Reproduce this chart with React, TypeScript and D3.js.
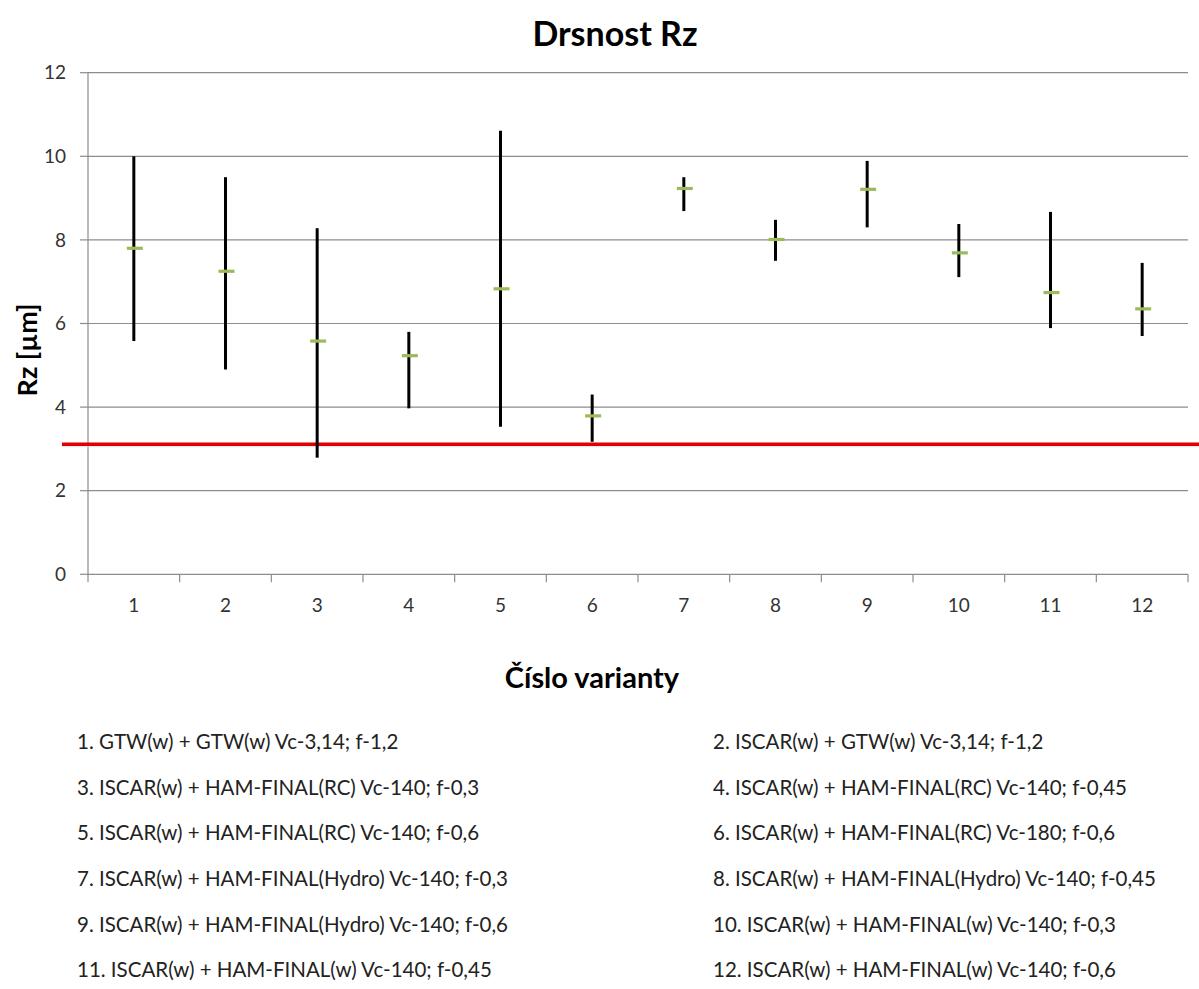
import React from 'react';
import * as d3 from 'd3';

const variants = ['1', '2', '3', '4', '5', '6', '7', '8', '9', '10', '11', '12'];
const maxValues = [10.0, 9.5, 8.28, 5.8, 10.61, 4.3, 9.5, 8.48, 9.89, 8.38, 8.67, 7.45];
const meanValues = [7.8, 7.25, 5.58, 5.23, 6.83, 3.79, 9.23, 8.01, 9.21, 7.69, 6.74, 6.35];
const minValues = [5.58, 4.9, 2.79, 3.97, 3.53, 3.17, 8.69, 7.5, 8.3, 7.11, 5.89, 5.7];
const yTicks = [0, 2, 4, 6, 8, 10, 12];
const limitValue = 3.11;

const legendItems = [
  '1. GTW(w) + GTW(w) Vc-3,14; f-1,2',
  '2. ISCAR(w) + GTW(w) Vc-3,14; f-1,2',
  '3. ISCAR(w) + HAM-FINAL(RC) Vc-140; f-0,3',
  '4. ISCAR(w) + HAM-FINAL(RC) Vc-140; f-0,45',
  '5. ISCAR(w) + HAM-FINAL(RC) Vc-140; f-0,6',
  '6. ISCAR(w) + HAM-FINAL(RC) Vc-180; f-0,6',
  '7. ISCAR(w) + HAM-FINAL(Hydro) Vc-140; f-0,3',
  '8. ISCAR(w) + HAM-FINAL(Hydro) Vc-140; f-0,45',
  '9. ISCAR(w) + HAM-FINAL(Hydro) Vc-140; f-0,6',
  '10. ISCAR(w) + HAM-FINAL(w) Vc-140; f-0,3',
  '11. ISCAR(w) + HAM-FINAL(w) Vc-140; f-0,45',
  '12. ISCAR(w) + HAM-FINAL(w) Vc-140; f-0,6',
];

const W = 1199;
const H = 989;
const FONT = 'Lato, "Open Sans", sans-serif';

const App = () => {
  const left = 88;
  const right = 1188;
  const top = 72.7;
  const bottom = 574.3;

  const x = d3.scaleBand().domain(variants).range([left, right]);
  const y = d3.scaleLinear().domain([0, 12]).range([bottom, top]);
  const bw = x.bandwidth();

  return (
    <svg width={W} height={H} style={{ position: 'absolute', left: 0, top: 0, background: '#fff' }}>
      <text x={615} y={46} textAnchor="middle" fontFamily={FONT} fontWeight="bold" fontSize={34} fill="#000">
        Drsnost Rz
      </text>

      {/* gridlines + y axis */}
      {yTicks.map(t => (
        <g key={t}>
          {t > 0 && <line x1={left} x2={right} y1={y(t)} y2={y(t)} stroke="#8c8c8c" strokeWidth={1.2} />}
          <line x1={left - 8} x2={left} y1={y(t)} y2={y(t)} stroke="#8c8c8c" strokeWidth={1.2} />
          <text x={66} y={y(t)} dy="0.35em" textAnchor="end" fontFamily={FONT} fontSize={19} fill="#333">
            {t}
          </text>
        </g>
      ))}
      <line x1={left} x2={left} y1={top} y2={bottom} stroke="#8c8c8c" strokeWidth={1.2} />
      <line x1={left} x2={right} y1={bottom} y2={bottom} stroke="#8c8c8c" strokeWidth={1.2} />
      {variants.map((v, i) => (
        <g key={v}>
          <line x1={x(v)! + bw} x2={x(v)! + bw} y1={bottom} y2={bottom + 8} stroke="#8c8c8c" strokeWidth={1.2} />
          {i === 0 && <line x1={left} x2={left} y1={bottom} y2={bottom + 8} stroke="#8c8c8c" strokeWidth={1.2} />}
          <text x={x(v)! + bw / 2} y={605} dy="0.35em" textAnchor="middle" fontFamily={FONT} fontSize={19} fill="#333">
            {v}
          </text>
        </g>
      ))}

      {/* limit line */}
      <line x1={62} x2={W} y1={y(limitValue) + 1.5} y2={y(limitValue) + 1.5} stroke="#d9d9d9" strokeWidth={3} opacity={0.6} />
      <line x1={62} x2={W} y1={y(limitValue)} y2={y(limitValue)} stroke="#e00000" strokeWidth={3.5} />

      {/* high-low bars */}
      {variants.map((v, i) => {
        const cx = x(v)! + bw / 2;
        return (
          <g key={v}>
            <line x1={cx} x2={cx} y1={y(maxValues[i])} y2={y(minValues[i])} stroke="#000" strokeWidth={3} />
            <line x1={cx - 7} x2={cx + 9} y1={y(meanValues[i])} y2={y(meanValues[i])} stroke="#9bbb59" strokeWidth={3.2} />
          </g>
        );
      })}

      <text
        transform="translate(37,350) rotate(-90)"
        textAnchor="middle"
        fontFamily={FONT}
        fontWeight="bold"
        fontSize={27}
        fill="#000"
      >
        Rz [µm]
      </text>
      <text x={592} y={688} textAnchor="middle" fontFamily={FONT} fontWeight="bold" fontSize={29} fill="#000">
        Číslo varianty
      </text>

      {legendItems.map((txt, i) => (
        <text
          key={txt}
          x={i % 2 === 0 ? 77 : 713}
          y={742 + Math.floor(i / 2) * 45.6}
          dy="0.35em"
          fontFamily={FONT}
          fontSize={20.5}
          fill="#222"
        >
          {txt}
        </text>
      ))}
    </svg>
  );
};

export default App;
